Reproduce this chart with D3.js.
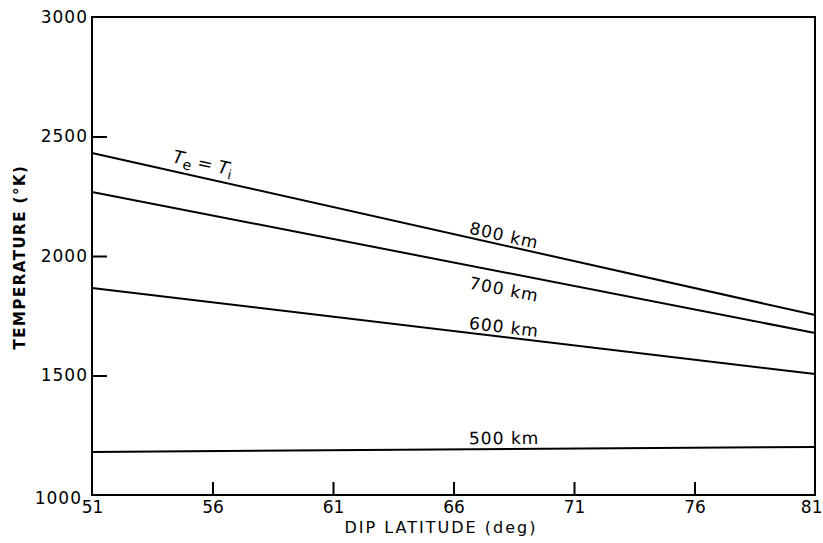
<!DOCTYPE html>
<html>
<head>
<meta charset="utf-8">
<script src="https://cdn.jsdelivr.net/npm/d3@7"></script>
<style>
  body { margin: 0; background: #fff; }
  text { font-family: "DejaVu Sans", sans-serif; fill: #000; }
</style>
</head>
<body>
<div id="chart"></div>
<script>
// values (endpoints of each straight line)
var latitudes = [51, 81]
var t800 = [2431, 1753]
var t700 = [2268, 1678]
var t600 = [1866, 1506]
var t500 = [1180, 1201]
var xTicks = [51, 56, 61, 66, 71, 76, 81]
var yTicks = [1000, 1500, 2000, 2500, 3000]

var width = 823, height = 543
var margin = {top: 17, right: 8, bottom: 48, left: 92}

var svg = d3.select('#chart').append('svg')
  .attr('width', width).attr('height', height)

var x = d3.scaleLinear().domain([51, 81]).range([margin.left, width - margin.right])
var y = d3.scaleLinear().domain([1000, 3000]).range([height - margin.bottom, margin.top])

// y axis, ticks pointing inward
var yAxis = svg.append('g')
  .attr('transform', 'translate(' + margin.left + ',0)')
  .call(d3.axisLeft(y).tickValues(yTicks).tickFormat(d3.format('d'))
    .tickSizeInner(-15).tickSizeOuter(0).tickPadding(4))
yAxis.select('.domain').remove()
yAxis.selectAll('line').attr('stroke-width', 2)
yAxis.selectAll('text').style('font-size', '17px').style('letter-spacing', '1px')
yAxis.selectAll('.tick').filter(function(d) { return d === 1000 || d === 3000 }).select('line').remove()
yAxis.selectAll('.tick').filter(function(d) { return d === 1000 }).select('text')
  .attr('x', -10).attr('dy', '0.5em')

// x axis, ticks pointing inward
var xAxis = svg.append('g')
  .attr('transform', 'translate(0,' + (height - margin.bottom) + ')')
  .call(d3.axisBottom(x).tickValues(xTicks).tickFormat(d3.format('d'))
    .tickSizeInner(-13).tickSizeOuter(0).tickPadding(6))
xAxis.select('.domain').remove()
xAxis.selectAll('line').attr('stroke-width', 2)
xAxis.selectAll('text').style('font-size', '17px')
xAxis.selectAll('.tick').filter(function(d) { return d === 51 || d === 81 }).select('line').remove()
xAxis.selectAll('.tick').filter(function(d) { return d === 81 }).select('text')
  .attr('text-anchor', 'end').attr('x', 7)

// frame
svg.append('rect')
  .attr('x', x(51)).attr('y', y(3000))
  .attr('width', x(81) - x(51)).attr('height', y(1000) - y(3000))
  .attr('fill', 'none').attr('stroke', '#000').attr('stroke-width', 2)

var series = [
  {name: '800 km', values: t800, dy: -10},
  {name: '700 km', values: t700, dy: 17},
  {name: '600 km', values: t600, dy: -10},
  {name: '500 km', values: t500, dy: -11}
]

var line = d3.line()
  .x(function(d, i) { return x(latitudes[i]) })
  .y(function(d) { return y(d) })

series.forEach(function(s) {
  svg.append('path')
    .datum(s.values)
    .attr('fill', 'none')
    .attr('stroke', '#000')
    .attr('stroke-width', 2)
    .attr('d', line)

  // label placed along the line, rotated to its slope
  var lat = 68.1
  var v = s.values[0] + (s.values[1] - s.values[0]) * (lat - 51) / 30
  var ang = Math.atan2(y(s.values[1]) - y(s.values[0]), x(81) - x(51)) * 180 / Math.PI
  svg.append('text')
    .attr('transform', 'translate(' + x(lat) + ',' + (y(v) + s.dy) + ') rotate(' + ang + ')')
    .attr('text-anchor', 'middle')
    .attr('dy', '0.35em')
    .style('font-size', '17px')
    .style('letter-spacing', '1px')
    .text(s.name)
})

// Te = Ti label on the top line
var angTop = Math.atan2(y(t800[1]) - y(t800[0]), x(81) - x(51)) * 180 / Math.PI
var latT = 55.6
var vT = t800[0] + (t800[1] - t800[0]) * (latT - 51) / 30
var te = svg.append('text')
  .attr('transform', 'translate(' + x(latT) + ',' + (y(vT) - 15) + ') rotate(' + angTop + ')')
  .attr('text-anchor', 'middle')
  .attr('dy', '0.35em')
  .style('font-size', '18px')
te.append('tspan').style('font-style', 'italic').text('T')
te.append('tspan').attr('dy', 4).style('font-size', '14px').text('e')
te.append('tspan').attr('dy', -4).text(' = ')
te.append('tspan').style('font-style', 'italic').text('T')
te.append('tspan').attr('dy', 4).style('font-size', '13px').text('i')

// axis titles
svg.append('text')
  .attr('x', 441).attr('y', 533)
  .attr('text-anchor', 'middle')
  .style('font-size', '16px')
  .style('letter-spacing', '2px')
  .text('DIP LATITUDE (deg)')

svg.append('text')
  .attr('transform', 'translate(25,257) rotate(-90)')
  .attr('text-anchor', 'middle')
  .style('font-size', '15px')
  .style('font-weight', 'bold')
  .style('letter-spacing', '1.5px')
  .text('TEMPERATURE (°K)')
</script>
</body>
</html>
